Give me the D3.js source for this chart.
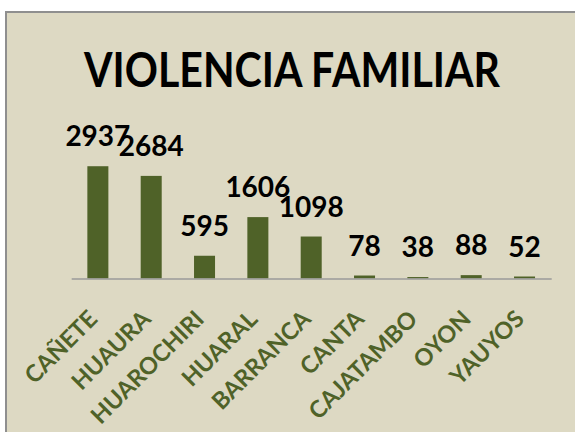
<!DOCTYPE html>
<html>
<head>
<meta charset="utf-8">
<script src="https://cdn.jsdelivr.net/npm/d3@7"></script>
<style>
  html, body { margin: 0; padding: 0; background: #ffffff; }
  svg { display: block; }
</style>
</head>
<body>
<svg id="chart" width="575" height="432"></svg>
<script>
const title = "VIOLENCIA FAMILIAR";
const categories = ["CAÑETE", "HUAURA", "HUAROCHIRI", "HUARAL", "BARRANCA", "CANTA", "CAJATAMBO", "OYON", "YAUYOS"];
const values = [2937, 2684, 595, 1606, 1098, 78, 38, 88, 52];
const yDomain = [0, 3500];

const svg = d3.select("#chart");
const W = 575, H = 432;
const barColor = "#4F6228";
const bg = "#DDD9C3";
const font = "Lato, 'Open Sans', sans-serif";

// chart area background + border (right/bottom edges run off the canvas)
svg.append("rect")
  .attr("x", 6).attr("y", 12)
  .attr("width", W).attr("height", H)
  .attr("fill", bg)
  .attr("stroke", "#8f8f8f")
  .attr("stroke-width", 2);

// title
svg.append("text")
  .attr("x", 292).attr("y", 87)
  .attr("text-anchor", "middle")
  .attr("font-family", font)
  .attr("font-weight", "bold")
  .attr("font-size", 47)
  .attr("textLength", 416)
  .attr("lengthAdjust", "spacingAndGlyphs")
  .attr("fill", "#000")
  .text(title);

const x = d3.scaleBand()
  .domain(categories)
  .range([71.2, 551.2])
  .paddingInner(0.606)
  .paddingOuter(0.303);

const y = d3.scaleLinear()
  .domain(yDomain)
  .range([278.5, 144.7]);

// bars
svg.append("g").selectAll("rect")
  .data(categories)
  .join("rect")
  .attr("x", (d) => x(d))
  .attr("width", x.bandwidth())
  .attr("y", (d, i) => y(values[i]))
  .attr("height", (d, i) => y(0) - y(values[i]))
  .attr("fill", barColor);

// axis
const axis = svg.append("g")
  .attr("transform", `translate(0,${y(0)})`)
  .call(d3.axisBottom(x).tickSize(0).tickFormat(""));
axis.select(".domain").attr("stroke", "#9a9a9a").attr("stroke-width", 1.5);

// value labels
svg.append("g").selectAll("text")
  .data(categories)
  .join("text")
  .attr("x", (d) => x(d) + x.bandwidth() / 2)
  .attr("y", (d, i) => y(values[i]) - 20)
  .attr("text-anchor", "middle")
  .attr("font-family", font)
  .attr("font-weight", "bold")
  .attr("font-size", 28)
  .attr("fill", "#000")
  .text((d, i) => values[i]);

// category labels rotated -45
svg.append("g").selectAll("text")
  .data(categories)
  .join("text")
  .attr("transform", (d) => `translate(${x(d) + x.bandwidth() / 2 + 1},${y(0) + 42}) rotate(-45)`)
  .attr("text-anchor", "end")
  .attr("font-family", font)
  .attr("font-weight", "bold")
  .attr("font-size", 23.5)
  .attr("fill", barColor)
  .text((d) => d);
</script>
</body>
</html>
